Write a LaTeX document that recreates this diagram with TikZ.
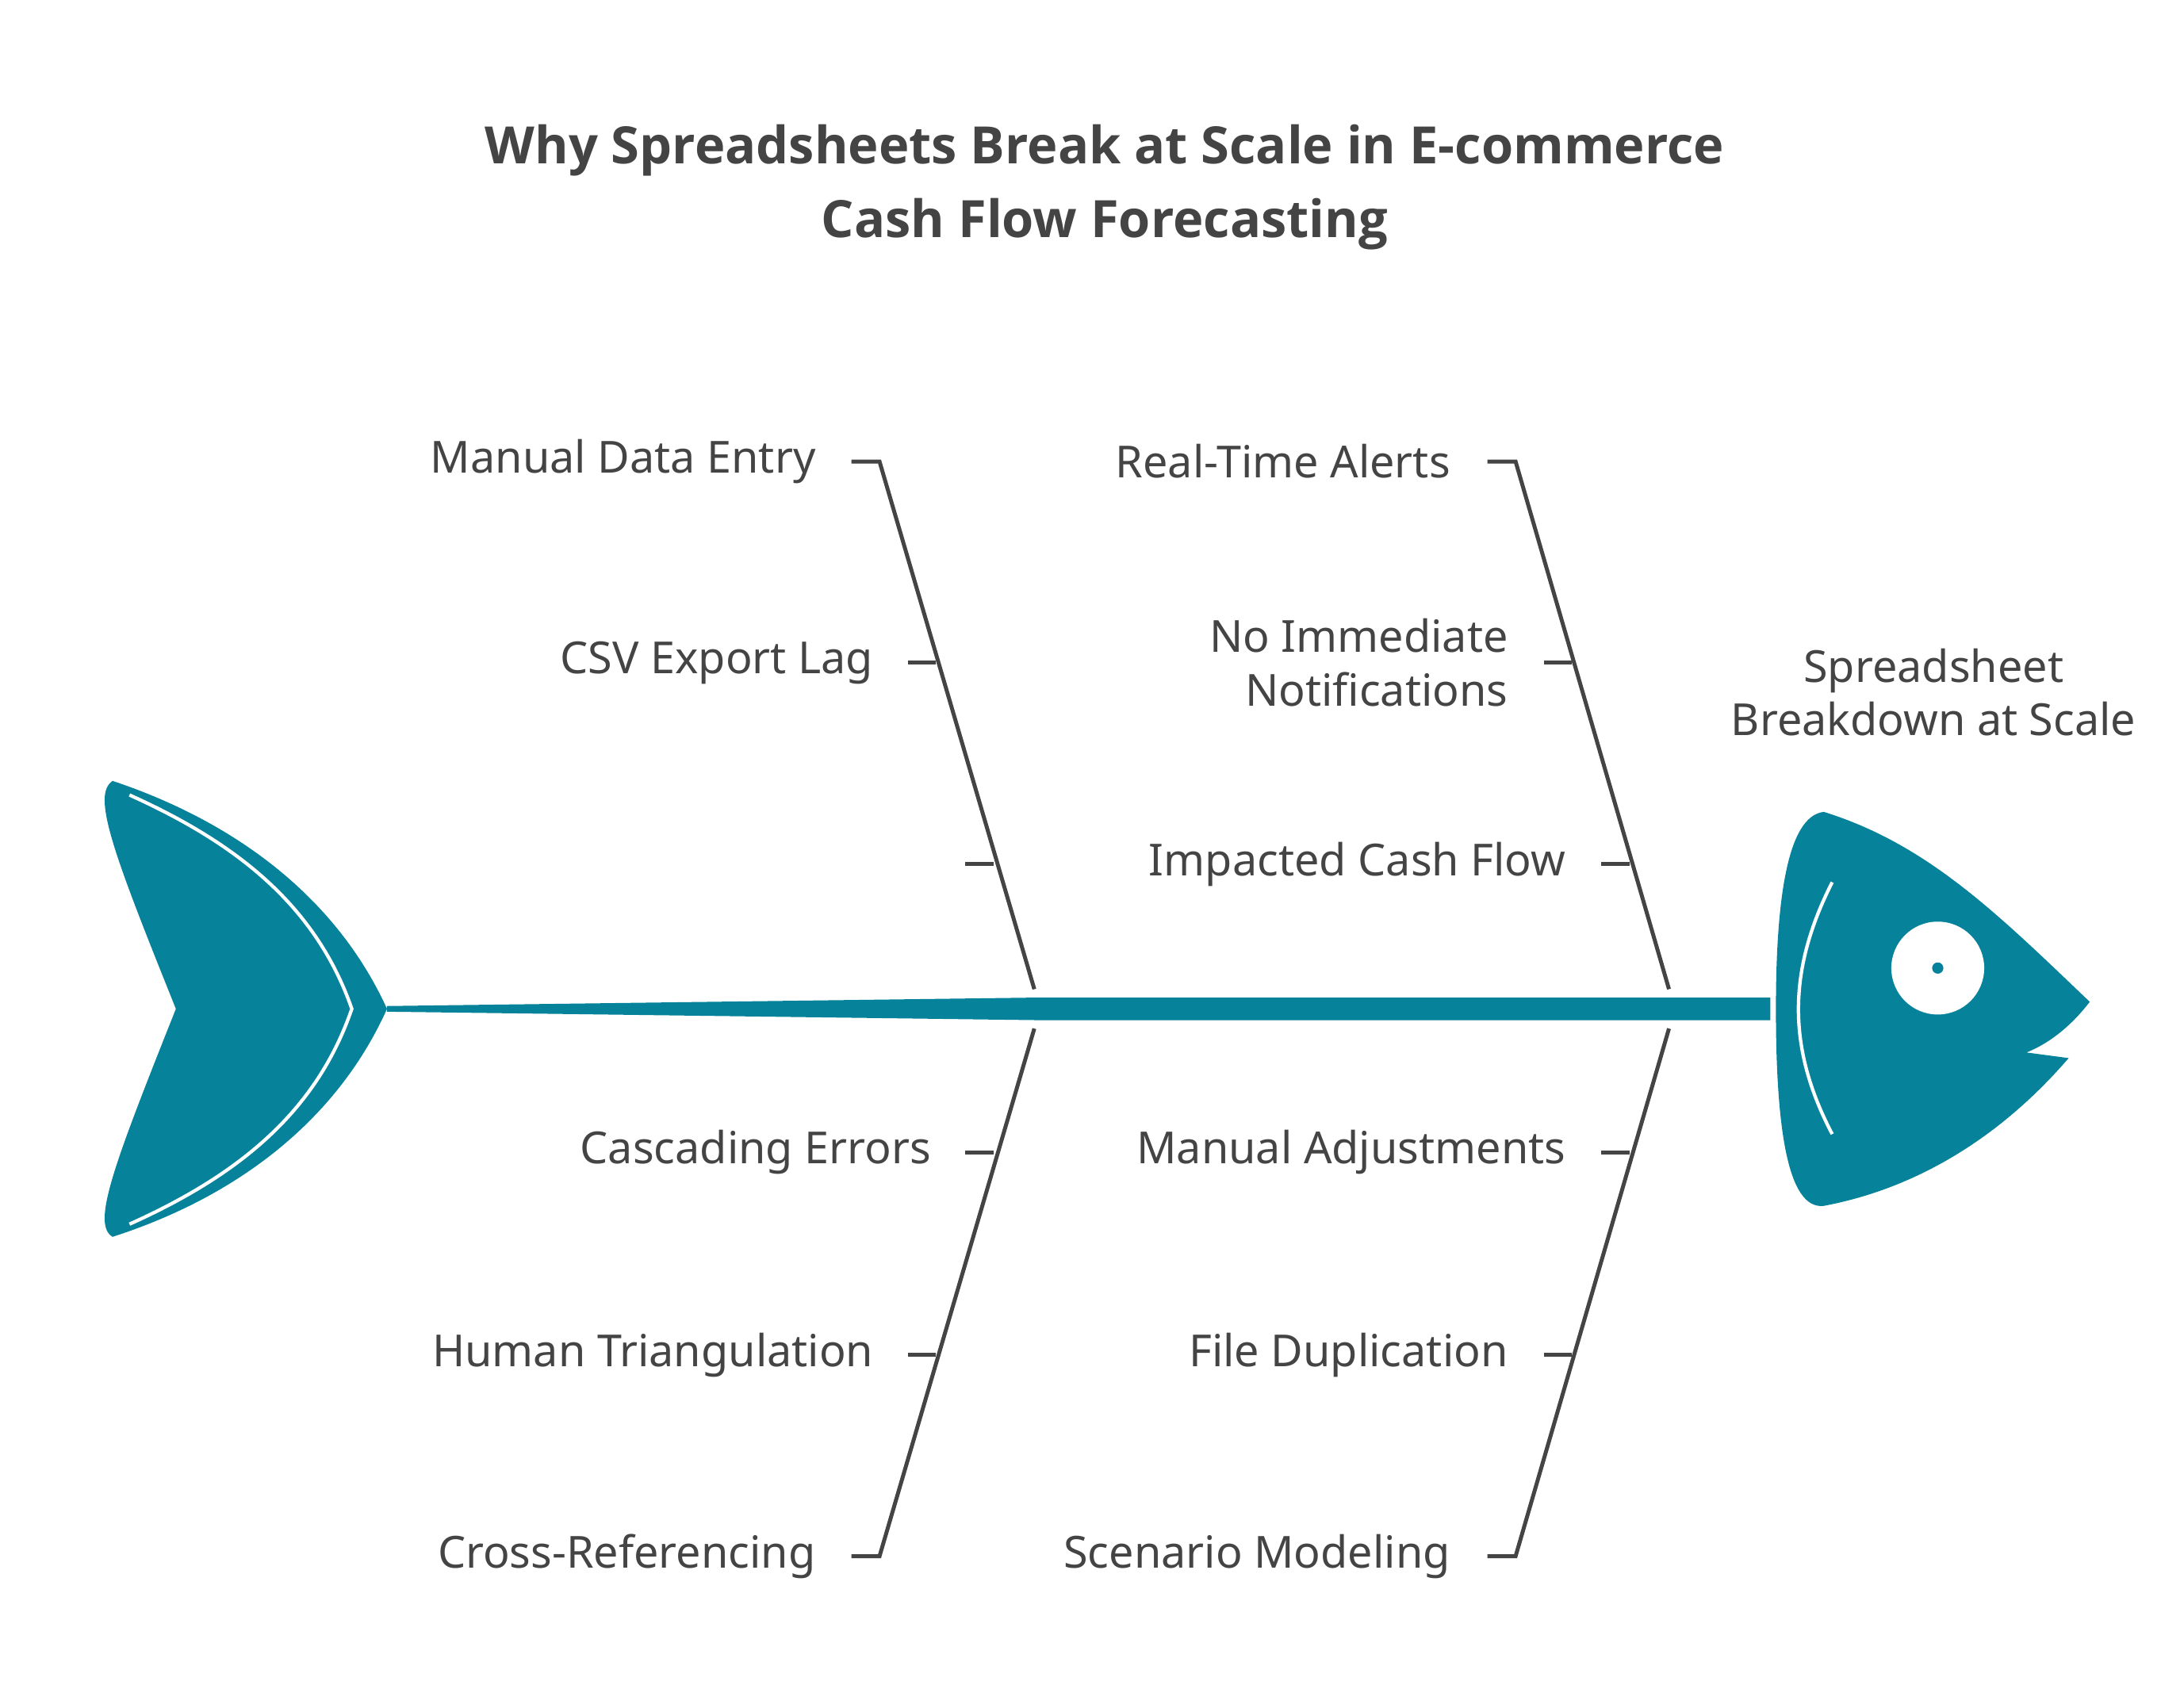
\documentclass[tikz,border=0pt]{standalone}
\usepackage{fontspec}
\setmainfont{Noto Sans}
\newfontfamily\titlefont{Open Sans}[BoldFont={* Bold}]
\definecolor{teal1}{HTML}{07829B}
\definecolor{txt}{HTML}{444444}
\begin{document}
\begin{tikzpicture}[x=0.5pt,y=-0.5pt,
 lab/.style={text=txt,font=\fontsize{15.7}{19}\selectfont,inner sep=0pt},
 labl/.style={lab,anchor=east,align=right},
 bone/.style={draw=txt,line width=1.4pt}]
\useasboundingbox (0,0) rectangle (1552,1197);
\node[text=txt,font=\titlefont\bfseries\fontsize{18.3}{26}\selectfont,align=center] (title) at (785,133) {Why Spreadsheets Break at Scale in E-commerce\\Cash Flow Forecasting};
% spine
\fill[teal1] (275,715) -- (735,709) -- (1258,709) -- (1258,725) -- (735,725) -- (275,719) -- cycle;
% tail
\fill[teal1] (80,555) .. controls (170,585) and (240,640) .. (275,717) .. controls (240,795) and (170,850) .. (80,879) .. controls (65,870) and (80,830) .. (125,717) .. controls (80,605) and (65,565) .. (80,555) -- cycle;
\draw[white,line width=1.2pt] (92,565) .. controls (170,600) and (225,645) .. (250,717) .. controls (225,790) and (170,835) .. (92,870);
% head
\fill[teal1] (1296,577) .. controls (1370,600) and (1420,650) .. (1485,712) .. controls (1475,725) and (1460,740) .. (1440,748) -- (1470,752) .. controls (1420,810) and (1360,845) .. (1296,857) .. controls (1270,860) and (1262,800) .. (1262,717) .. controls (1262,640) and (1270,580) .. (1296,577) -- cycle;
\draw[white,line width=1.2pt] (1302,627) .. controls (1270,690) and (1270,745) .. (1302,806);
\fill[white] (1377,688) circle (33);
\fill[teal1] (1377,688) circle (4);
\node[lab,align=center] (head) at (1374,492) {Spreadsheet\\Breakdown at Scale};
% bones
\coordinate (ul1) at (625,328); \coordinate (ul2) at (735,703);
\coordinate (ll1) at (735,731); \coordinate (ll2) at (625,1106);
\coordinate (ur1) at (1077,328); \coordinate (ur2) at (1186,703);
\coordinate (lr1) at (1186,731); \coordinate (lr2) at (1077,1106);
\draw[bone] (605,328) -- (ul1) -- (ul2);
\draw[bone] (ll1) -- (ll2) -- (605,1106);
\draw[bone] (1057,328) -- (ur1) -- (ur2);
\draw[bone] (lr1) -- (lr2) -- (1057,1106);
\draw[bone] (645,471) -- (665,471); \draw[bone] (686,614) -- (706,614);
\draw[bone] (686,819) -- (706,819); \draw[bone] (645,963) -- (665,963);
\draw[bone] (1097,471) -- (1117,471); \draw[bone] (1138,614) -- (1158,614);
\draw[bone] (1138,819) -- (1158,819); \draw[bone] (1097,963) -- (1117,963);
% labels
\node[labl] (a1) at (580,328) {Manual Data Entry};
\node[labl] (a2) at (621,471) {CSV Export Lag};
\node[labl] (b1) at (662,819) {Cascading Errors};
\node[labl] (b2) at (621,963) {Human Triangulation};
\node[labl] (b3) at (580,1106) {Cross-Referencing};
\node[labl] (c1) at (1031,328) {Real-Time Alerts};
\node[labl] (c2) at (1072,471) {No Immediate\\Notifications};
\node[labl] (c3) at (1113,614) {Impacted Cash Flow};
\node[labl] (d1) at (1113,819) {Manual Adjustments};
\node[labl] (d2) at (1072,963) {File Duplication};
\node[labl] (d3) at (1031,1106) {Scenario Modeling};
\end{tikzpicture}
\end{document}
